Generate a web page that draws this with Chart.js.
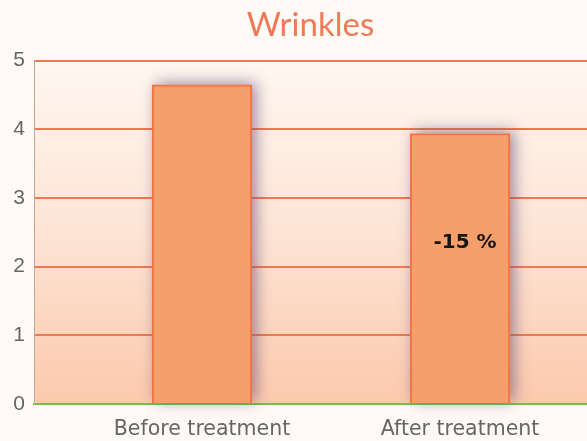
<!DOCTYPE html>
<html>
<head>
<meta charset="utf-8">
<script src="https://cdn.jsdelivr.net/npm/chart.js@4"></script>
<style>
  html, body { margin: 0; padding: 0; background: #fffaf6; }
  #wrap { width: 587px; height: 441px; }
</style>
</head>
<body>
<div id="wrap"><canvas id="c" width="587" height="441"></canvas></div>
<script>
// Wrinkle score before and after treatment
const categories = ['Before treatment', 'After treatment'];
const scores = [4.65, 3.94];
const yTicks = [0, 1, 2, 3, 4, 5];
const changeLabel = '-15 %';
const changeLabelAt = 2.35; // y value where the change note sits

const points = scores.map((v, i) => ({ x: i, y: v }));

// soft peach gradient behind the plot
const plotBackground = {
  id: 'plotBackground',
  beforeDraw(chart) {
    const { ctx, chartArea: a } = chart;
    const g = ctx.createLinearGradient(0, a.top, 0, a.bottom);
    g.addColorStop(0, '#fff7f1');
    g.addColorStop(0.5, '#fde4d5');
    g.addColorStop(1, '#fcc9ad');
    ctx.save();
    ctx.fillStyle = g;
    ctx.fillRect(a.left, a.top, a.right - a.left, a.bottom - a.top);
    ctx.restore();
  }
};

// blurred halo drawn behind each bar
const barShadow = {
  id: 'barShadow',
  beforeDatasetsDraw(chart) {
    const { ctx } = chart;
    ctx.save();
    ctx.shadowColor = 'rgba(100, 85, 125, 0.65)';
    ctx.shadowBlur = 14;
    ctx.shadowOffsetX = 4;
    ctx.shadowOffsetY = -2;
    ctx.fillStyle = '#f5a06b';
    chart.getDatasetMeta(0).data.forEach(bar => {
      const p = bar.getProps(['x', 'y', 'base', 'width'], true);
      ctx.fillRect(p.x - p.width / 2, p.y, p.width, p.base - p.y);
    });
    ctx.restore();
  }
};

// percentage change written inside the second bar
const changeNote = {
  id: 'changeNote',
  afterDatasetsDraw(chart) {
    const { ctx } = chart;
    const bar = chart.getDatasetMeta(0).data[1];
    const y = chart.scales.y.getPixelForValue(changeLabelAt);
    ctx.save();
    ctx.font = 'bold 20px "DejaVu Sans"';
    ctx.fillStyle = '#151515';
    ctx.textAlign = 'center';
    ctx.textBaseline = 'middle';
    ctx.fillText(changeLabel, bar.x + 5, y);
    ctx.restore();
  }
};

new Chart(document.getElementById('c'), {
  type: 'bar',
  data: {
    datasets: [{
      data: points,
      backgroundColor: '#f5a06b',
      borderColor: '#f27548',
      borderWidth: 2,
      barPercentage: 0.388,
      categoryPercentage: 1
    }]
  },
  options: {
    responsive: false,
    animation: false,
    layout: { padding: { top: 0, right: 0, bottom: 0, left: 0 } },
    plugins: {
      legend: { display: false },
      tooltip: { enabled: false },
      title: {
        display: true,
        fullSize: false,
        text: 'Wrinkles',
        color: '#f07a55',
        font: { family: 'Lato', size: 33, weight: 'normal' },
        padding: { top: 6, bottom: 15 }
      }
    },
    scales: {
      x: {
        type: 'linear',
        offset: false,
        min: -0.651,
        max: 1.492,
        afterBuildTicks(scale) {
          scale.ticks = categories.map((_, i) => ({ value: i }));
        },
        afterFit(scale) { scale.height = 37; },
        ticks: {
          callback: (v) => categories[v],
          color: '#666',
          font: { family: 'DejaVu Sans', size: 20.5 },
          padding: 5,
          maxRotation: 0
        },
        grid: { display: false },
        border: { display: true, color: '#7dbd44', width: 2 }
      },
      y: {
        min: 0,
        max: 5,
        afterBuildTicks(scale) {
          scale.ticks = yTicks.map(v => ({ value: v }));
        },
        afterFit(scale) { scale.width = 34; },
        ticks: {
          color: '#666',
          font: { family: 'Liberation Sans', size: 21 },
          padding: 9
        },
        grid: {
          color: (c) => c.tick && c.tick.value === 0 ? '#7dbd44' : '#f2774f',
          lineWidth: 2,
          drawTicks: false
        },
        border: { display: true, color: '#c9a491', width: 1 }
      }
    }
  },
  plugins: [plotBackground, barShadow, changeNote]
});
</script>
</body>
</html>
